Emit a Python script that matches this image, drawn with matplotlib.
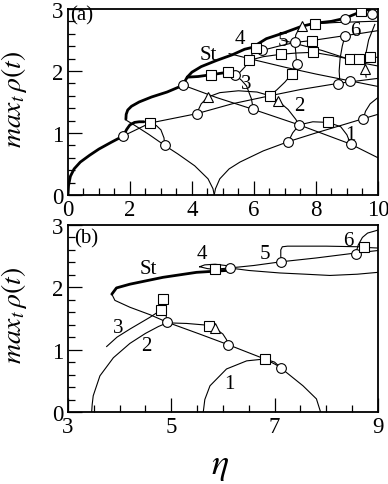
import matplotlib
matplotlib.use("Agg")
import matplotlib.pyplot as plt
from matplotlib.ticker import MultipleLocator

plt.rcParams['font.family'] = ['Liberation Serif', 'DejaVu Serif']
plt.rcParams['mathtext.fontset'] = 'stix'

# ---------------- panel (a) data ----------------
# thick stable branch "St"
st_a_low_x = [0, 0.02, 0.08, 0.2, 0.4, 0.7, 1.0, 1.4, 1.78, 1.9, 2.0, 2.15, 2.3, 2.45]
st_a_low_y = [0, 0.15, 0.3, 0.42, 0.53, 0.64, 0.74, 0.85, 0.95, 1.06, 1.13, 1.17, 1.18, 1.18]
st_a_mid_x = [1.87, 1.88, 1.93, 2.05, 2.3, 2.7, 3.2, 3.72, 3.78, 3.85]
st_a_mid_y = [1.22, 1.3, 1.37, 1.43, 1.5, 1.58, 1.66, 1.77, 1.84, 1.9]
st_a_flat_x = [3.85, 4.2, 4.63, 5.17, 5.3]
st_a_flat_y = [1.9, 1.91, 1.94, 1.98, 1.96]
st_a_up_x = [3.85, 4.0, 4.3, 4.8, 5.3, 5.7, 5.95]
st_a_up_y = [1.9, 1.98, 2.07, 2.17, 2.26, 2.35, 2.38]
st_a_top_x = [5.95, 6.4, 7.0, 7.54, 7.97, 8.5, 8.94, 9.47, 10]
st_a_top_y = [2.38, 2.52, 2.62, 2.72, 2.77, 2.8, 2.85, 2.96, 3.03]

# thin branches
thin_a = {
    'cusp_left': ([4.72, 4.68, 4.52, 4.09, 3.55, 3.12, 2.6, 2.1, 1.9],
                  [0, 0.1, 0.26, 0.47, 0.66, 0.8, 0.98, 1.14, 1.2]),
    'cusp_right': ([4.72, 4.76, 4.9, 5.2, 5.55, 6.3, 7.11, 8.0, 9.0, 9.53, 10],
                   [0, 0.1, 0.26, 0.42, 0.53, 0.71, 0.86, 1.0, 1.15, 1.23, 1.3]),
    'rise1': ([1.78, 2.65, 4.15, 5.3, 6.52, 7.5, 8.72, 10],
              [0.95, 1.16, 1.31, 1.47, 1.6, 1.7, 1.8, 1.88]),
    'fall1': ([3.72, 4.8, 5.98, 7.46, 9.12, 10],
              [1.77, 1.57, 1.38, 1.13, 0.82, 0.6]),
    'bubble': ([3.12, 3.1, 3.0, 2.85, 2.65],
               [0.8, 0.92, 1.05, 1.12, 1.16]),
    'arch2': ([4.15, 4.3, 4.52, 4.9, 5.5, 6.1, 6.52, 6.77, 7.1, 7.35, 7.46],
              [1.31, 1.47, 1.58, 1.65, 1.68, 1.66, 1.6, 1.52, 1.38, 1.22, 1.13]),
    'arch1': ([7.11, 7.25, 7.46, 7.9, 8.4, 8.8, 9.0, 9.12],
              [0.86, 1.0, 1.13, 1.18, 1.17, 1.1, 0.97, 0.82]),
    'arc_r': ([9.53, 9.6, 9.75, 10], [1.23, 1.35, 1.47, 1.57]),
    'arch3': ([5.39, 5.6, 5.76, 5.92, 5.98], [1.94, 1.85, 1.76, 1.55, 1.38]),
    'arch4': ([5.39, 5.55, 5.7, 5.85, 5.95, 6.06], [1.94, 1.98, 2.06, 2.17, 2.28, 2.37]),
    'up1': ([5.85, 6.3, 6.89, 7.4, 7.91, 8.5, 9.1, 9.39, 9.76, 10],
            [2.17, 2.23, 2.27, 2.29, 2.3, 2.25, 2.19, 2.19, 2.22, 2.22]),
    'up2': ([5.95, 6.25, 6.8, 7.32, 7.86, 8.4, 8.94, 9.5, 10],
            [2.36, 2.33, 2.4, 2.46, 2.49, 2.53, 2.57, 2.61, 2.65]),
    'up3': ([7.54, 7.97, 8.6, 9.2, 9.8, 10], [2.73, 2.76, 2.78, 2.79, 2.8, 2.8]),
    'fallU1': ([5.2, 6.0, 7.0, 8.0, 9.1, 10], [2.28, 2.18, 2.06, 1.95, 1.84, 1.75]),
    'fallU2': ([6.9, 7.5, 8.2, 9.0, 9.58, 10], [2.5, 2.42, 2.33, 2.2, 2.12, 2.08]),
    'arc7': ([7.38, 7.3, 7.22, 7.0, 6.75, 6.52], [2.11, 2.05, 1.95, 1.82, 1.7, 1.6]),
    'arc7b': ([7.32, 7.35, 7.38], [2.46, 2.3, 2.11]),
    'arc5': ([7.32, 7.35, 7.45, 7.54], [2.46, 2.58, 2.68, 2.73]),
    'arc9': ([8.94, 8.85, 8.78, 8.75, 8.77], [2.57, 2.4, 2.2, 2.0, 1.84]),
    'arc10': ([9.9, 9.7, 9.6, 9.58, 9.62], [2.75, 2.5, 2.25, 2.03, 1.9]),
}

circ_a_x = [1.78, 3.12, 3.72, 4.15, 5.39, 5.98, 6.25, 7.11, 7.46, 7.32, 7.38, 8.72, 9.1, 9.12, 9.53, 8.94, 8.94, 9.8]
circ_a_y = [0.95, 0.8, 1.77, 1.31, 1.94, 1.38, 2.33, 0.86, 1.13, 2.46, 2.11, 1.79, 1.84, 0.82, 1.23, 2.84, 2.57, 2.92]
sq_a_x = [2.65, 4.63, 5.17, 5.85, 6.06, 6.52, 6.89, 7.22, 7.86, 7.91, 7.97, 8.4, 9.1, 9.39, 9.76, 9.47]
sq_a_y = [1.16, 1.94, 1.98, 2.17, 2.37, 1.6, 2.27, 1.95, 2.49, 2.30, 2.76, 1.17, 2.19, 2.19, 2.22, 2.96]
tri_a_x = [4.52, 6.77, 7.54, 9.58]
tri_a_y = [1.58, 1.52, 2.73, 2.03]

labels_a = [('St', 4.52, 2.27), ('4', 5.55, 2.52), ('5', 6.94, 2.49), ('6', 9.26, 2.65),
            ('3', 5.76, 1.79), ('2', 7.48, 1.44), ('1', 9.1, 0.98)]

# ---------------- panel (b) data ----------------
st_b_x = [6.07, 5.49, 4.84, 4.2, 3.94, 3.85]
st_b_y = [2.27, 2.24, 2.16, 2.05, 1.99, 1.89]

thin_b = {
    'fall': ([3.85, 3.91, 4.2, 4.59, 4.92, 5.55, 6.1, 6.5, 6.81, 7.0, 7.13],
             [1.89, 1.79, 1.68, 1.56, 1.44, 1.25, 1.08, 0.95, 0.85, 0.77, 0.71]),
    'arch1': ([5.62, 5.65, 5.75, 6.07, 6.46, 6.81, 7.0, 7.13, 7.55, 7.81, 7.89],
              [0, 0.2, 0.42, 0.69, 0.82, 0.85, 0.8, 0.7, 0.42, 0.21, 0]),
    'arch2': ([3.46, 3.47, 3.49, 3.62, 3.88, 4.2, 4.5, 4.75, 4.92, 5.3, 5.73, 5.85, 6.0, 6.07, 6.1],
              [0, 0.12, 0.26, 0.58, 0.87, 1.1, 1.26, 1.37, 1.43, 1.42, 1.39, 1.34, 1.25, 1.16, 1.08]),
    'br3': ([3.75, 3.95, 4.2, 4.59, 4.81, 4.88, 4.86, 4.84],
            [1.05, 1.2, 1.33, 1.52, 1.64, 1.73, 1.78, 1.81]),
    'br3_down': ([4.84, 4.86, 4.9, 4.92], [1.81, 1.7, 1.55, 1.44]),
    'loop4': ([5.55, 5.65, 5.85, 6.05, 6.15, 6.1, 5.9, 5.7, 5.55],
              [2.33, 2.36, 2.37, 2.35, 2.31, 2.28, 2.28, 2.3, 2.33]),
    'rise5': ([5.84, 6.13, 6.6, 7.13, 7.8, 8.57, 9.0], [2.29, 2.31, 2.35, 2.41, 2.47, 2.55, 2.59]),
    'lower': ([6.13, 6.5, 7.1, 7.6, 8.07, 8.6, 9.0], [2.31, 2.27, 2.23, 2.21, 2.19, 2.21, 2.24]),
    'rect5': ([7.13, 7.12, 7.12, 7.15, 7.25, 8.0, 8.65, 8.74, 9.0],
              [2.41, 2.5, 2.6, 2.65, 2.66, 2.66, 2.65, 2.64, 2.63]),
    'arc6': ([8.57, 8.62, 8.7, 8.8, 8.97, 9.0], [2.54, 2.68, 2.8, 2.87, 2.91, 2.92]),
}

circ_b_x = [4.92, 6.1, 7.13, 6.13, 7.13, 8.57]
circ_b_y = [1.44, 1.08, 0.70, 2.31, 2.41, 2.54]
sq_b_x = [4.84, 4.81, 5.73, 6.81, 5.84, 8.74]
sq_b_y = [1.81, 1.64, 1.38, 0.85, 2.3, 2.64]
tri_b_x = [5.85]
tri_b_y = [1.34]

labels_b = [('St', 4.55, 2.3), ('4', 5.59, 2.54), ('5', 6.81, 2.54), ('6', 8.42, 2.75),
            ('3', 3.97, 1.36), ('2', 4.52, 1.07), ('1', 6.13, 0.45)]


def draw(ax, thick, thin, circ, sq, tri, labels):
    for xs, ys in thick:
        ax.plot(xs, ys, color='black', lw=2.0, solid_capstyle='round')
    for xs, ys in thin.values():
        ax.plot(xs, ys, color='black', lw=0.8)
    mk = dict(ls='none', mfc='white', mec='black', mew=0.8, ms=7, zorder=5)
    ax.plot(circ[0], circ[1], marker='o', **mk)
    ax.plot(sq[0], sq[1], marker='s', **mk)
    ax.plot(tri[0], tri[1], marker='^', **mk)
    for t, x, y in labels:
        ax.text(x, y, t, fontsize=15, ha='center', va='center')
    for s in ax.spines.values():
        s.set_linewidth(1.3)
    ax.tick_params(which='both', direction='in', top=False, right=False,
                   labelsize=16.5, pad=3, width=0.9)
    ax.tick_params(which='major', length=10)
    ax.tick_params(which='minor', length=5)
    ax.set_ylim(0, 3)
    ax.yaxis.set_major_locator(MultipleLocator(1))
    ax.yaxis.set_minor_locator(MultipleLocator(0.2))
    ax.set_ylabel(r'$max_t\,\rho(t)$', fontsize=20)
    ax.yaxis.set_label_coords(-0.125, 0.52)


fig = plt.figure(figsize=(3.88, 4.85), dpi=100)
ax_a = fig.add_axes([0.175, 0.596, 0.799, 0.3835])
ax_b = fig.add_axes([0.175, 0.1485, 0.799, 0.3856])

draw(ax_a,
     [(st_a_low_x, st_a_low_y), (st_a_mid_x, st_a_mid_y), (st_a_flat_x, st_a_flat_y),
      (st_a_up_x, st_a_up_y), (st_a_top_x, st_a_top_y)],
     thin_a, (circ_a_x, circ_a_y), (sq_a_x, sq_a_y), (tri_a_x, tri_a_y), labels_a)
ax_a.set_xlim(0, 10)
ax_a.xaxis.set_major_locator(MultipleLocator(2))
ax_a.xaxis.set_minor_locator(MultipleLocator(0.5))
ax_a.text(0.44, 2.9, '(a)', fontsize=15, ha='center', va='center')

draw(ax_b, [(st_b_x, st_b_y)], thin_b, (circ_b_x, circ_b_y), (sq_b_x, sq_b_y),
     (tri_b_x, tri_b_y), labels_b)
ax_b.set_xlim(3, 9)
ax_b.set_xticks([3, 5, 7, 9])
ax_b.xaxis.set_minor_locator(MultipleLocator(0.5))
ax_b.text(3.35, 2.8, '(b)', fontsize=15, ha='center', va='center')

fig.text(220 / 388, 1 - 467 / 485, r'$\eta$', fontsize=26, ha='center', va='center')

fig.savefig('out.png', dpi=100)
